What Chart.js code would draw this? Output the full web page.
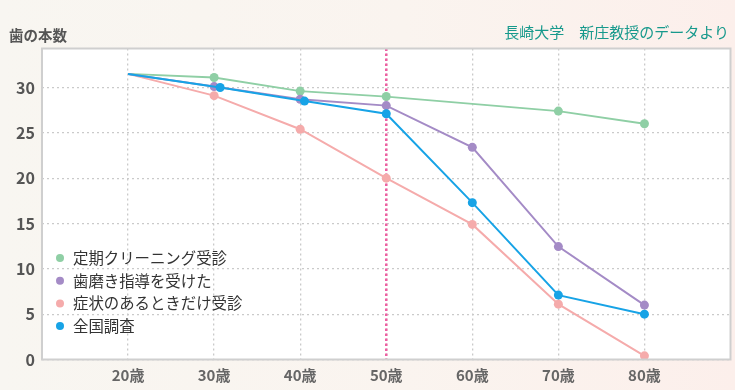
<!DOCTYPE html>
<html lang="ja">
<head>
<meta charset="UTF-8">
<title>歯の本数</title>
<script src="https://cdn.jsdelivr.net/npm/chart.js@4.4.0/dist/chart.umd.min.js"></script>
<style>
    body {
        margin: 0;
        width: 735px;
        height: 390px;
        overflow: hidden;
        background: linear-gradient(to right, #f8f6f1 0%, #faf4ef 55%, #fcefeb 100%);
        font-family: "Noto Sans CJK JP", "Noto Sans", sans-serif;
    }
    .wrap { position: relative; width: 735px; height: 390px; }
    .y-title {
        position: absolute; left: 9px; top: 25px;
        font-size: 14.5px; font-weight: bold; color: #555; line-height: 20px;
    }
    .source {
        position: absolute; right: 6px; top: 21px;
        font-size: 15px; color: #17998c; line-height: 22px; white-space: pre;
    }
    canvas { position: absolute; left: 0; top: 0; }
</style>
</head>
<body>
<div class="wrap">
    <canvas id="teethChart" width="735" height="390"></canvas>
    <div class="y-title">歯の本数</div>
    <div class="source">長崎大学　新庄教授のデータより</div>
</div>
<script>
// data
const ages = [20, 30, 40, 50, 60, 70, 80];
const ageLabels = ['20歳', '30歳', '40歳', '50歳', '60歳', '70歳', '80歳'];
const yTicks = [0, 5, 10, 15, 20, 25, 30];
const seriesNames = ['定期クリーニング受診', '歯磨き指導を受けた', '症状のあるときだけ受診', '全国調査'];
const regularCleaning = [31.5, 31.1, 29.6, 29.0, null, 27.4, 26.0];
const brushingGuidance = [31.5, 30.1, 28.7, 28.0, 23.4, 12.45, 6.0];
const symptomOnly = [31.5, 29.1, 25.4, 20.0, 14.9, 6.1, 0.4];
const nationalSurvey = [31.5, 30.0, 28.5, 27.1, 17.3, 7.1, 5.0];
const nationalAges = [20, 30.7, 40.5, 50, 60, 70, 80];
const highlightAge = 50;

const colors = ['#8fcfa5', '#a48bc6', '#f5abab', '#17a3e6'];
const orders = [2, 1, 3, 0];

function toPoints(xs, ys) {
    return xs.map((x, i) => ({ x: x, y: ys[i] }));
}

const seriesData = [
    toPoints(ages, regularCleaning),
    toPoints(ages, brushingGuidance),
    toPoints(ages, symptomOnly),
    toPoints(nationalAges, nationalSurvey)
];

const fontFamily = '"Noto Sans CJK JP", "Noto Sans", sans-serif';

// white plot area + grey frame
const plotFrame = {
    id: 'plotFrame',
    beforeDraw(chart) {
        const a = chart.chartArea, ctx = chart.ctx;
        ctx.save();
        ctx.fillStyle = '#ffffff';
        ctx.fillRect(a.left, a.top, a.right - a.left, a.bottom - a.top);
        ctx.restore();
    },
    afterDraw(chart) {
        const a = chart.chartArea, ctx = chart.ctx;
        ctx.save();
        ctx.strokeStyle = '#cfcfcf';
        ctx.lineWidth = 2;
        ctx.strokeRect(a.left, a.top, a.right - a.left, a.bottom - a.top);
        ctx.restore();
    }
};

// pink dotted marker at 50
const markerLine = {
    id: 'markerLine',
    beforeDatasetsDraw(chart) {
        const a = chart.chartArea, ctx = chart.ctx;
        const x = chart.scales.x.getPixelForValue(highlightAge);
        ctx.save();
        ctx.strokeStyle = '#ee5fa2';
        ctx.lineWidth = 2.5;
        ctx.setLineDash([2.5, 2.5]);
        ctx.beginPath();
        ctx.moveTo(x, a.top);
        ctx.lineTo(x, a.bottom);
        ctx.stroke();
        ctx.restore();
    }
};

// legend drawn inside the plot, lower left
const innerLegend = {
    id: 'innerLegend',
    afterDatasetsDraw(chart) {
        const a = chart.chartArea, ctx = chart.ctx;
        ctx.save();
        ctx.font = '15.4px ' + fontFamily;
        ctx.textBaseline = 'middle';
        chart.data.datasets.forEach((ds, i) => {
            const y = a.top + 209.5 + i * 22.7;
            ctx.fillStyle = ds.borderColor;
            ctx.beginPath();
            ctx.arc(a.left + 18, y, 4, 0, Math.PI * 2);
            ctx.fill();
            ctx.fillStyle = '#333';
            ctx.fillText(ds.label, a.left + 31, y);
        });
        ctx.restore();
    }
};

new Chart(document.getElementById('teethChart'), {
    type: 'line',
    data: {
        datasets: seriesNames.map((name, i) => ({
            label: name,
            data: seriesData[i],
            order: orders[i],
            borderColor: colors[i],
            backgroundColor: colors[i],
            pointBackgroundColor: colors[i],
            pointBorderWidth: 0,
            pointRadius: c => c.dataIndex === 0 ? 0 : 4.5,
            borderWidth: i === 0 ? 1.8 : 2,
            spanGaps: true,
            tension: 0,
            fill: false
        }))
    },
    options: {
        responsive: false,
        animation: false,
        layout: { padding: { top: 48.5, right: 3, left: 0, bottom: 0 } },
        plugins: {
            legend: { display: false },
            tooltip: { enabled: false }
        },
        scales: {
            x: {
                type: 'linear',
                min: 10,
                max: 90,
                afterBuildTicks: s => { s.ticks = ages.map(v => ({ value: v })); },
                afterFit: s => { s.height = 30.5; },
                grid: { color: '#cacaca', lineWidth: 1.3, drawTicks: false },
                border: { display: false, dash: [2, 3] },
                ticks: {
                    padding: 7,
                    color: '#666',
                    font: { family: fontFamily, size: 15, weight: 'bold' },
                    maxRotation: 0,
                    callback: v => ageLabels[ages.indexOf(v)]
                }
            },
            y: {
                min: 0,
                max: 34.3,
                afterBuildTicks: s => { s.ticks = yTicks.map(v => ({ value: v })); },
                afterFit: s => { s.width = 42; },
                grid: { color: '#cacaca', lineWidth: 1.3, drawTicks: false },
                border: { display: false, dash: [2, 3] },
                ticks: {
                    padding: 7,
                    color: '#555',
                    font: { family: fontFamily, size: 16, weight: 'bold' }
                }
            }
        }
    },
    plugins: [plotFrame, markerLine, innerLegend]
});
</script>
</body>
</html>
